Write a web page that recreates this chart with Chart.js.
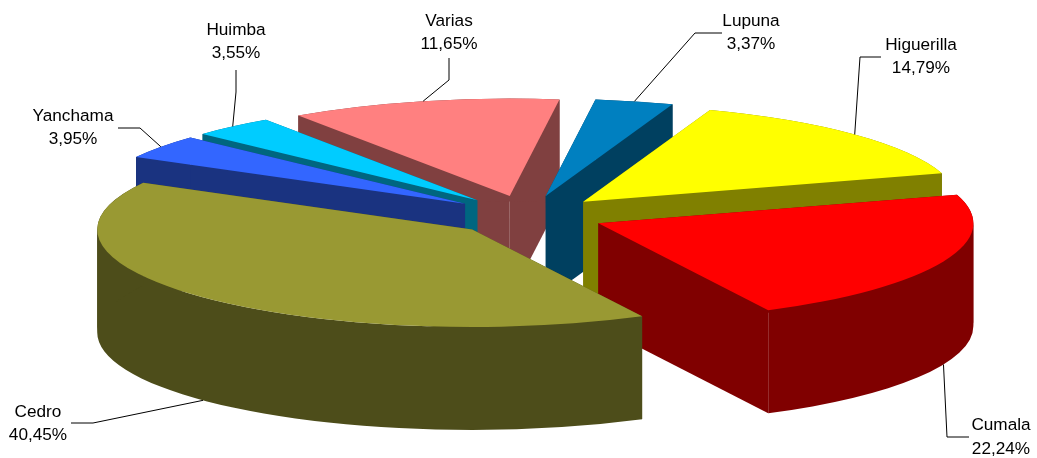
<!DOCTYPE html>
<html>
<head>
<meta charset="utf-8">
<title>Especies</title>
<script src="https://cdn.jsdelivr.net/npm/chart.js@4"></script>
<style>
  html, body { margin: 0; padding: 0; background: #fff; }
  #wrap { width: 1037px; height: 458px; }
</style>
</head>
<body>
<div id="wrap"><canvas id="pie"></canvas></div>
<script>
const species = ["Cumala", "Cedro", "Yanchama", "Huimba", "Varias", "Lupuna", "Higuerilla"];
const shares = [22.24, 40.45, 3.95, 3.55, 11.65, 3.37, 14.79];
const topColors = ["#FF0000", "#999933", "#3366FF", "#00CCFF", "#FF8080", "#0080C0", "#FFFF00"];
const sideColors = ["#800000", "#4D4D1A", "#1A3380", "#006680", "#804040", "#004060", "#808000"];

// label centre and leader elbow, the pie itself does not use these
const labelSpots = {
  Cumala: { x: 1001, y: 425.5, elbow: [947, 437], tail: [969, 437] },
  Cedro: { x: 38, y: 412, elbow: [93, 423], tail: [71, 423] },
  Yanchama: { x: 73, y: 116, elbow: [140, 128], tail: [118, 128] },
  Huimba: { x: 236, y: 30, elbow: [236, 92], tail: [236, 70] },
  Varias: { x: 449, y: 21, elbow: [449, 80], tail: [449, 58] },
  Lupuna: { x: 751, y: 21, elbow: [695, 33], tail: [722, 33] },
  Higuerilla: { x: 921, y: 45, elbow: [860, 57], tail: [881, 57] },
};

const squash = 0.26;
const depth = 103;

function apexOf(arc) {
  const mid = (arc.startAngle + arc.endAngle) / 2;
  const off = arc.options.offset;
  return {
    x: arc.x + off * Math.cos(mid),
    y: arc.y + off * Math.sin(mid) * squash,
  };
}

function rimPoint(arc, drop) {
  const mid = (arc.startAngle + arc.endAngle) / 2;
  const apex = apexOf(arc);
  return {
    x: apex.x + arc.outerRadius * Math.cos(mid),
    y: apex.y + arc.outerRadius * Math.sin(mid) * squash + drop,
  };
}

function fillTop(ctx, arc, color) {
  const apex = apexOf(arc);
  ctx.fillStyle = color;
  ctx.beginPath();
  ctx.moveTo(apex.x, apex.y);
  ctx.ellipse(apex.x, apex.y, arc.outerRadius, arc.outerRadius * squash, 0, arc.startAngle, arc.endAngle);
  ctx.closePath();
  ctx.fill();
}

function fillSides(ctx, arc, color) {
  const apex = apexOf(arc);
  const rx = arc.outerRadius;
  const ry = rx * squash;
  ctx.fillStyle = color;
  // the two cut faces
  [arc.startAngle, arc.endAngle].forEach((angle) => {
    const px = apex.x + rx * Math.cos(angle);
    const py = apex.y + ry * Math.sin(angle);
    ctx.beginPath();
    ctx.moveTo(apex.x, apex.y);
    ctx.lineTo(px, py);
    ctx.lineTo(px, py + depth);
    ctx.lineTo(apex.x, apex.y + depth);
    ctx.closePath();
    ctx.fill();
  });
  // the outer rim, cut where the ellipse turns back or the strip cancels itself out
  const stops = [arc.startAngle];
  for (let k = Math.ceil(arc.startAngle / Math.PI); k * Math.PI < arc.endAngle; k++) {
    stops.push(k * Math.PI);
  }
  stops.push(arc.endAngle);
  for (let s = 0; s < stops.length - 1; s++) {
    ctx.beginPath();
    ctx.ellipse(apex.x, apex.y, rx, ry, 0, stops[s], stops[s + 1]);
    ctx.ellipse(apex.x, apex.y + depth, rx, ry, 0, stops[s + 1], stops[s], true);
    ctx.closePath();
    ctx.fill();
  }
}

const solidPie = {
  id: "solidPie",
  beforeDatasetDraw(chart, args) {
    const ctx = chart.ctx;
    const arcs = chart.getDatasetMeta(args.index).data;
    // back slices first so the front ones cover them
    const backToFront = arcs
      .map((arc, i) => ({ arc, i }))
      .sort((a, b) => {
        const midA = (a.arc.startAngle + a.arc.endAngle) / 2;
        const midB = (b.arc.startAngle + b.arc.endAngle) / 2;
        return Math.sin(midA) - Math.sin(midB);
      });

    backToFront.forEach(({ arc, i }) => {
      fillSides(ctx, arc, sideColors[i]);
      fillTop(ctx, arc, topColors[i]);
    });
    return false;
  },
  afterDraw(chart) {
    const ctx = chart.ctx;
    const arcs = chart.getDatasetMeta(0).data;
    ctx.save();
    ctx.font = '17.2px "Liberation Sans", Arial, sans-serif';
    ctx.textAlign = "center";
    ctx.textBaseline = "middle";
    ctx.strokeStyle = "#000";
    ctx.lineWidth = 1;
    ctx.fillStyle = "#000";
    arcs.forEach((arc, i) => {
      const spot = labelSpots[species[i]];
      const mid = (arc.startAngle + arc.endAngle) / 2;
      const rim = rimPoint(arc, Math.sin(mid) > 0 ? depth : 0);
      ctx.beginPath();
      ctx.moveTo(spot.tail[0], spot.tail[1]);
      ctx.lineTo(spot.elbow[0], spot.elbow[1]);
      ctx.lineTo(rim.x, rim.y);
      ctx.stroke();
      ctx.fillText(species[i], spot.x, spot.y);
      ctx.fillText(shares[i].toFixed(2).replace(".", ",") + "%", spot.x, spot.y + 23.5);
    });
    ctx.restore();
  },
};

new Chart(document.getElementById("pie"), {
  type: "pie",
  data: {
    labels: species,
    datasets: [{ data: shares, backgroundColor: topColors, borderWidth: 0, offset: 77 }],
  },
  options: {
    responsive: true,
    maintainAspectRatio: false,
    animation: false,
    rotation: 73,
    radius: 375,
    layout: { padding: { left: 18, bottom: 27 } },
    plugins: { legend: { display: false }, tooltip: { enabled: false } },
  },
  plugins: [solidPie],
});
</script>
</body>
</html>
